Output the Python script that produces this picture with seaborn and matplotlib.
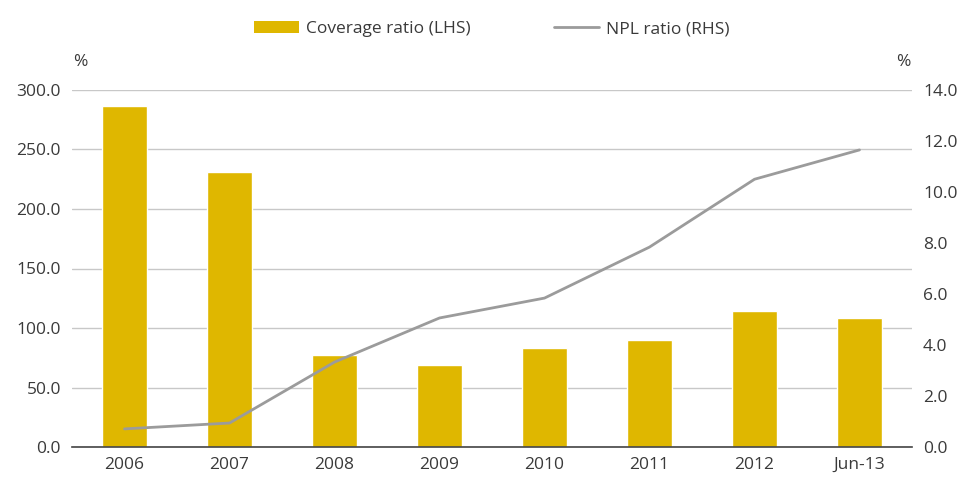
import matplotlib
matplotlib.use("Agg")
import matplotlib.pyplot as plt
import seaborn as sns
import numpy as np
import pandas as pd
from matplotlib.patches import Patch
from matplotlib.lines import Line2D

categories = ["2006", "2007", "2008", "2009", "2010", "2011", "2012", "Jun-13"]
coverage = [286.5, 231.0, 77.5, 69.0, 83.5, 90.0, 114.5, 108.5]
npl = [0.71, 0.94, 3.33, 5.06, 5.84, 7.84, 10.5, 11.65]
left_ticks = [0, 50, 100, 150, 200, 250, 300]
right_ticks = [0, 2, 4, 6, 8, 10, 12, 14]

BAR = "#DFB700"
LINE = "#9B9B9B"
TXT = "#3A3A3A"
FS = 12.5

sns.set_theme(style="white")
plt.rcParams["font.family"] = ["Open Sans", "DejaVu Sans"]

fig = plt.figure(figsize=(9.63, 4.84), dpi=100)
ax = fig.add_axes([72/963, 37/484, 840/963, 357/484])
df = pd.DataFrame({"cat": categories, "cov": coverage, "npl": npl})
sns.barplot(data=df, x="cat", y="cov", color=BAR, saturation=1, width=0.42, ax=ax)
ax.set_xlim(-0.5, 7.5)
ax.set_ylim(0, 300)
ax.set_yticks(left_ticks)
ax.set_yticklabels([f"{v:.1f}" for v in left_ticks])
ax.yaxis.grid(True, color="#C8C8C8", linewidth=1)
ax.set_axisbelow(True)
ax.set_xlabel("")
ax.set_ylabel("")
for s in ["top", "right", "left"]:
    ax.spines[s].set_visible(False)
ax.spines["bottom"].set_color("#444444")
ax.spines["bottom"].set_linewidth(1.2)
ax.tick_params(axis="both", length=0, labelsize=FS, colors=TXT)
ax.tick_params(axis="x", pad=7)
ax.tick_params(axis="y", pad=8)

ax2 = ax.twinx()
sns.lineplot(x=np.arange(len(categories)), y=npl, color=LINE, linewidth=2, ax=ax2)
ax2.set_ylim(0, 14)
ax2.set_yticks(right_ticks)
ax2.set_yticklabels([f"{v:.1f}" for v in right_ticks])
ax2.set_xlim(-0.5, 7.5)
for s in ["top", "right", "left", "bottom"]:
    ax2.spines[s].set_visible(False)
ax2.tick_params(axis="y", length=0, labelsize=FS, colors=TXT, pad=8)
ax2.set_ylabel("")

fig.text(80/963, 1 - 62/484, "%", fontsize=FS, color=TXT, ha="center", va="center")
fig.text(903/963, 1 - 62/484, "%", fontsize=FS, color=TXT, ha="center", va="center")

handles = [Patch(facecolor=BAR, edgecolor="none"),
           Line2D([0], [0], color=LINE, linewidth=2)]
fig.legend(handles, ["Coverage ratio (LHS)", "NPL ratio (RHS)"], loc="center",
           bbox_to_anchor=(492/963, 1 - 29/484), ncol=2, frameon=False,
           fontsize=FS, handlelength=2.6, handleheight=0.7, columnspacing=4.8,
           handletextpad=0.4, labelcolor=TXT)

fig.savefig("out.png", dpi=100)
